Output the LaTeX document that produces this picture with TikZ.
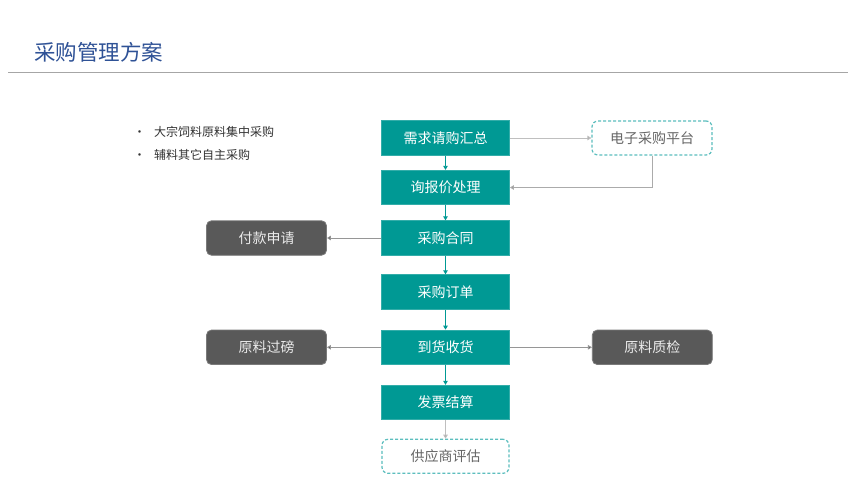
\documentclass[tikz,border=0pt]{standalone}
\usepackage{fontspec}
\setmainfont{Noto Sans CJK SC}
\usetikzlibrary{arrows.meta}
\definecolor{teal1}{RGB}{0,153,148}
\definecolor{darkbox}{RGB}{89,89,89}
\definecolor{dashc}{RGB}{92,190,190}
\definecolor{titleblue}{RGB}{47,82,150}
\definecolor{lgray}{RGB}{191,191,191}
\definecolor{mgray}{RGB}{150,150,150}
\definecolor{txtgray}{RGB}{102,102,102}
\tikzset{
  mainbox/.style={draw=teal1!80!white, line width=0.8pt, fill=teal1, text=white, minimum width=128pt, minimum height=34.5pt, inner sep=0pt, font=\fontsize{14pt}{16pt}\selectfont},
  sidebox/.style={fill=darkbox, draw=darkbox!80!white, line width=0.8pt, rounded corners=5pt, text=white!92!black, minimum width=120pt, minimum height=34.5pt, inner sep=0pt, font=\fontsize{14pt}{16pt}\selectfont},
  dashbox/.style={draw=dashc, line width=1.2pt, dash pattern=on 3pt off 2pt, rounded corners=6pt, fill=white, text=txtgray, minimum width=120pt, minimum height=34pt, inner sep=0pt, font=\fontsize{14pt}{16pt}\selectfont},
  tealarrow/.style={draw=teal1, line width=0.9pt, -{Triangle[width=4.5pt,length=4pt]}},
  lightarrow/.style={draw=lgray, line width=0.9pt, -{Triangle[width=4.5pt,length=4pt,fill=mgray]}},
  grayarrow/.style={draw=mgray, line width=0.9pt, -{Triangle[width=4.5pt,length=4pt,fill=black!75]}},
  bullettext/.style={anchor=west, inner sep=0pt, text=black!80, font=\fontsize{12pt}{14pt}\selectfont},
}
\begin{document}
\begin{tikzpicture}[x=1pt,y=-1pt]
\useasboundingbox (0,0) rectangle (860,484);
\fill[white] (0,0) rectangle (860,484);
% title
\node[anchor=west, inner sep=0pt, text=titleblue, font=\fontsize{21.5pt}{24pt}\selectfont] (title) at (34,52) {采购管理方案};
\draw[line width=1.8pt, draw=black!35] (8,72.5) -- (848,72.5);
% bullets
\node[bullettext] (t1) at (133.5,131.5) {\makebox[20.5pt][l]{•}大宗饲料原料集中采购};
\node[bullettext] (t2) at (133.5,155) {\makebox[20.5pt][l]{•}辅料其它自主采购};
% main column
\node[mainbox] (n1) at (445.5,138) {需求请购汇总};
\node[mainbox] (n2) at (445.5,187.5) {询报价处理};
\node[mainbox] (n3) at (445.5,238) {采购合同};
\node[mainbox] (n4) at (445.5,292) {采购订单};
\node[mainbox] (n5) at (445.5,347.3) {到货收货};
\node[mainbox] (n6) at (445.5,402.5) {发票结算};
\node[dashbox, minimum width=127pt] (n7) at (445.5,456.3) {供应商评估};
% side boxes
\node[dashbox] (e1) at (652,138) {电子采购平台};
\node[sidebox] (s1) at (266.5,238) {付款申请};
\node[sidebox] (s2) at (266.5,347.3) {原料过磅};
\node[sidebox] (s3) at (652.3,347.3) {原料质检};
% connectors
\draw[tealarrow] (n1) -- (n2);
\draw[tealarrow] (n2) -- (n3);
\draw[tealarrow] (n3) -- (n4);
\draw[tealarrow] (n4) -- (n5);
\draw[tealarrow] (n5) -- (n6);
\draw[lightarrow] (n6) -- (n7);
\draw[lightarrow] (n1) -- (e1);
\draw[lightarrow, draw=mgray!80] (e1.south) |- (n2.east);
\draw[grayarrow] (n3) -- (s1);
\draw[grayarrow] (n5) -- (s2);
\draw[grayarrow] (n5) -- (s3);
\end{tikzpicture}
\end{document}
